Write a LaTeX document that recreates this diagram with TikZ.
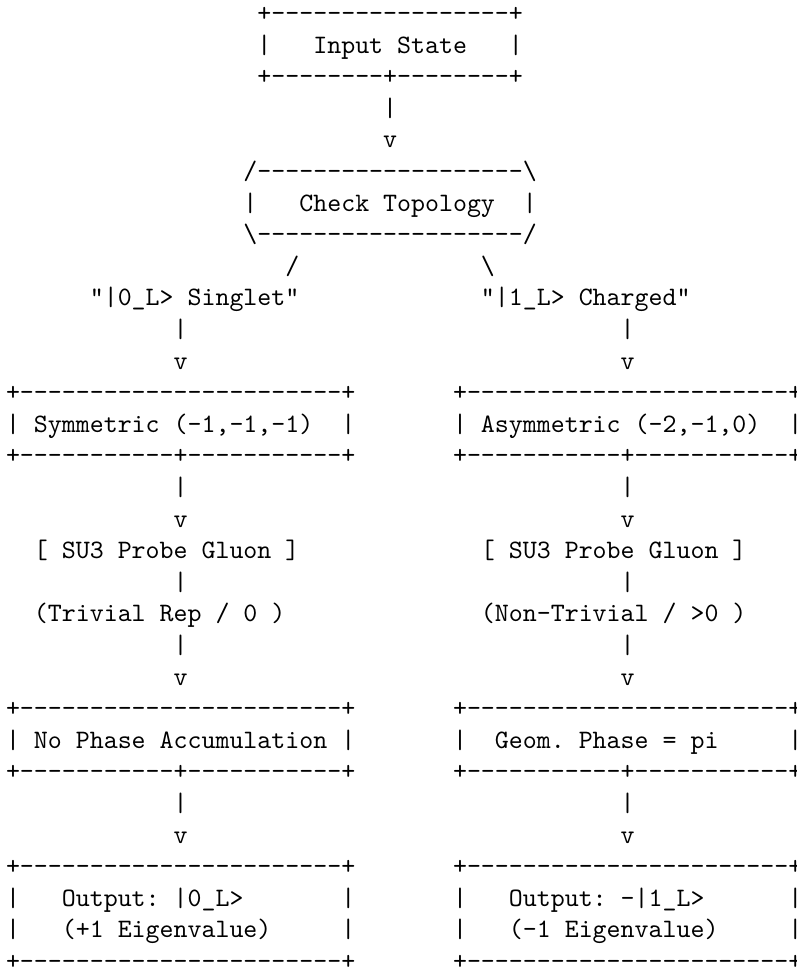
\documentclass[tikz,border=0pt]{standalone}
\newcommand\hy{-\kern0pt}
\newcommand\dashes[1]{\foreach \k in {1,...,#1}{\hy}}
\newcommand\bs{\textbackslash}
\newcommand\rowtxt[4]{\node[asc] (#1) at ({(6+#2*13.97)*1pt},{-(21.5+(#3-1)*31.6)*1pt}) {#4};}
\tikzset{asc/.style={anchor=base west, inner sep=0pt, outer sep=0pt, text=black,
  scale=2.661,
  font=\fontsize{10pt}{12pt}\ttfamily\selectfont\frenchspacing}}
\begin{document}
\begin{tikzpicture}[x=1pt,y=1pt]
\useasboundingbox (0,0) rectangle (797,-977);
\clip (0,0) rectangle (797,-977);
% input box
\rowtxt{inTop}{18}{1}{+\dashes{17}+}
\rowtxt{inL}{18}{2}{|}
\rowtxt{inTxt}{22}{2}{Input State}
\rowtxt{inR}{36}{2}{|}
\rowtxt{inBot}{18}{3}{+\dashes{8}+\dashes{8}+}
\rowtxt{a1}{27}{4}{|}
\rowtxt{a1v}{27}{5}{v}
% check topology
\rowtxt{chTop}{17}{6}{/\dashes{19}\bs}
\rowtxt{chL}{17}{7}{|}
\rowtxt{chTxt}{21}{7}{Check Topology}
\rowtxt{chR}{37}{7}{|}
\rowtxt{chBot}{17}{8}{\bs\dashes{19}/}
\rowtxt{brL}{20}{9}{/}
\rowtxt{brR}{34}{9}{\bs}
\rowtxt{labL}{6}{10}{"|0\_L> Singlet"}
\rowtxt{labR}{34}{10}{"|1\_L> Charged"}
\rowtxt{a2L}{12}{11}{|}
\rowtxt{a2R}{44}{11}{|}
\rowtxt{a2Lv}{12}{12}{v}
\rowtxt{a2Rv}{44}{12}{v}
% symmetric boxes
\rowtxt{syTop}{0}{13}{+\dashes{23}+}
\rowtxt{asTop}{32}{13}{+\dashes{23}+}
\rowtxt{syL}{0}{14}{|}
\rowtxt{syTxt}{2}{14}{Symmetric (-1,-1,-1)}
\rowtxt{syR}{24}{14}{|}
\rowtxt{asL}{32}{14}{|}
\rowtxt{asTxt}{34}{14}{Asymmetric (-2,-1,0)}
\rowtxt{asR}{56}{14}{|}
\rowtxt{syBot}{0}{15}{+\dashes{11}+\dashes{11}+}
\rowtxt{asBot}{32}{15}{+\dashes{11}+\dashes{11}+}
\rowtxt{a3L}{12}{16}{|}
\rowtxt{a3R}{44}{16}{|}
\rowtxt{a3Lv}{12}{17}{v}
\rowtxt{a3Rv}{44}{17}{v}
\rowtxt{prL}{2}{18}{[ SU3 Probe Gluon ]}
\rowtxt{prR}{34}{18}{[ SU3 Probe Gluon ]}
\rowtxt{a4L}{12}{19}{|}
\rowtxt{a4R}{44}{19}{|}
\rowtxt{repL}{2}{20}{(Trivial Rep / 0 )}
\rowtxt{repR}{34}{20}{(Non-Trivial / >0 )}
\rowtxt{a5L}{12}{21}{|}
\rowtxt{a5R}{44}{21}{|}
\rowtxt{a5Lv}{12}{22}{v}
\rowtxt{a5Rv}{44}{22}{v}
% phase boxes
\rowtxt{phLTop}{0}{23}{+\dashes{23}+}
\rowtxt{phRTop}{32}{23}{+\dashes{23}+}
\rowtxt{phLL}{0}{24}{|}
\rowtxt{phLTxt}{2}{24}{No Phase Accumulation}
\rowtxt{phLR}{24}{24}{|}
\rowtxt{phRL}{32}{24}{|}
\rowtxt{phRTxt}{35}{24}{Geom. Phase = pi}
\rowtxt{phRR}{56}{24}{|}
\rowtxt{phLBot}{0}{25}{+\dashes{11}+\dashes{11}+}
\rowtxt{phRBot}{32}{25}{+\dashes{11}+\dashes{11}+}
\rowtxt{a6L}{12}{26}{|}
\rowtxt{a6R}{44}{26}{|}
\rowtxt{a6Lv}{12}{27}{v}
\rowtxt{a6Rv}{44}{27}{v}
% output boxes
\rowtxt{ouLTop}{0}{28}{+\dashes{23}+}
\rowtxt{ouRTop}{32}{28}{+\dashes{23}+}
\rowtxt{ouLL1}{0}{29}{|}
\rowtxt{ouLTxt1}{4}{29}{Output: |0\_L>}
\rowtxt{ouLR1}{24}{29}{|}
\rowtxt{ouRL1}{32}{29}{|}
\rowtxt{ouRTxt1}{36}{29}{Output: -|1\_L>}
\rowtxt{ouRR1}{56}{29}{|}
\rowtxt{ouLL2}{0}{30}{|}
\rowtxt{ouLTxt2}{4}{30}{(+1 Eigenvalue)}
\rowtxt{ouLR2}{24}{30}{|}
\rowtxt{ouRL2}{32}{30}{|}
\rowtxt{ouRTxt2}{36}{30}{(-1 Eigenvalue)}
\rowtxt{ouRR2}{56}{30}{|}
\rowtxt{ouLBot}{0}{31}{+\dashes{23}+}
\rowtxt{ouRBot}{32}{31}{+\dashes{23}+}
\end{tikzpicture}
\end{document}
